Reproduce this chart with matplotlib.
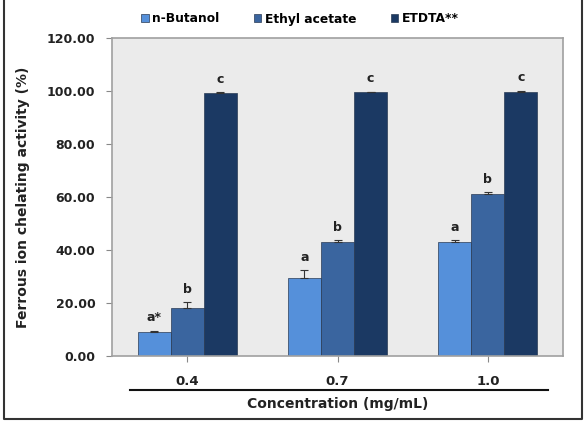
import numpy as np
import matplotlib.pyplot as plt
from matplotlib.lines import Line2D

# data
concentrations = ["0.4", "0.7", "1.0"]
series_names = ["n-Butanol", "Ethyl acetate", "ETDTA**"]
butanol = [9.1, 29.3, 43.2]
ethyl_acetate = [18.0, 43.2, 61.0]
edta = [99.3, 99.6, 99.8]
butanol_err = [0.3, 3.0, 0.4]
ethyl_err = [2.2, 0.4, 0.8]
edta_err = [0.2, 0.2, 0.2]
butanol_letters = ["a*", "a", "a"]
ethyl_letters = ["b", "b", "b"]
edta_letters = ["c", "c", "c"]

colors = ["#5590da", "#3a659f", "#1b3963"]

fig = plt.figure(figsize=(5.84, 4.32), dpi=100)
ax = fig.add_axes([112 / 584, 76 / 432, 451 / 584, 318 / 432])
ax.set_facecolor("#ebebeb")

x = np.arange(len(concentrations))
w = 0.22
values = [butanol, ethyl_acetate, edta]
errors = [butanol_err, ethyl_err, edta_err]
letters = [butanol_letters, ethyl_letters, edta_letters]

for i in range(3):
    pos = x + (i - 1) * w
    ax.bar(pos, values[i], w, color=colors[i], edgecolor="#2a3b55", linewidth=0.5,
           label=series_names[i], zorder=2)
    # only the upper half of the error bar, as Excel draws it
    ax.errorbar(pos, values[i], yerr=[np.zeros(3), errors[i]], fmt="none",
                ecolor="#333333", elinewidth=0.8, capsize=3, capthick=0.8, zorder=3)
    for p, v, e, t in zip(pos, values[i], errors[i], letters[i]):
        ax.text(p, v + e + 2.5, t, ha="center", va="bottom", fontsize=9,
                fontweight="bold", color="#222222")

ax.set_xlim(-0.5, 2.5)
ax.set_ylim(0, 120)
ax.set_yticks(np.arange(0, 121, 20))
ax.set_yticklabels(["%.2f" % v for v in np.arange(0, 121, 20)], fontsize=9,
                   fontweight="bold", color="#222222")
ax.set_xticks(x)
ax.set_xticklabels(concentrations, fontsize=9.5, fontweight="bold", color="#222222")
ax.tick_params(axis="y", length=4, color="#888888", pad=8)
ax.tick_params(axis="x", length=4, color="#888888", pad=10)
for s in ax.spines.values():
    s.set_color("#a0a0a0")
    s.set_linewidth(1.2)

ax.set_ylabel("Ferrous ion chelating activity (%)", fontsize=10, fontweight="bold",
              color="#222222", labelpad=12)

# line under tick labels and x label
fig.add_artist(Line2D([130 / 584, 548 / 584], [42 / 432, 42 / 432], color="#111111",
                      linewidth=1.5, transform=fig.transFigure))
fig.text(338 / 584, 28 / 432, "Concentration (mg/mL)", ha="center", va="center",
         fontsize=10, fontweight="bold", color="#222222")

# legend
fig.legend(loc="center", bbox_to_anchor=(300 / 584, 413 / 432), ncol=3, frameon=False,
           handlelength=0.6, handleheight=0.6, handletextpad=0.3, columnspacing=2.8,
           prop={"size": 8.8, "weight": "bold"})

# outer frame: left, bottom and right sides only (top is cut off in the reference)
fx = [4 / 584, 4 / 584, 582 / 584, 582 / 584]
fy = [1.0, 13 / 432, 13 / 432, 1.0]
fig.add_artist(Line2D(fx, fy, color="#333333", linewidth=1.5,
                      transform=fig.transFigure))

fig.savefig("out.png", dpi=100)
